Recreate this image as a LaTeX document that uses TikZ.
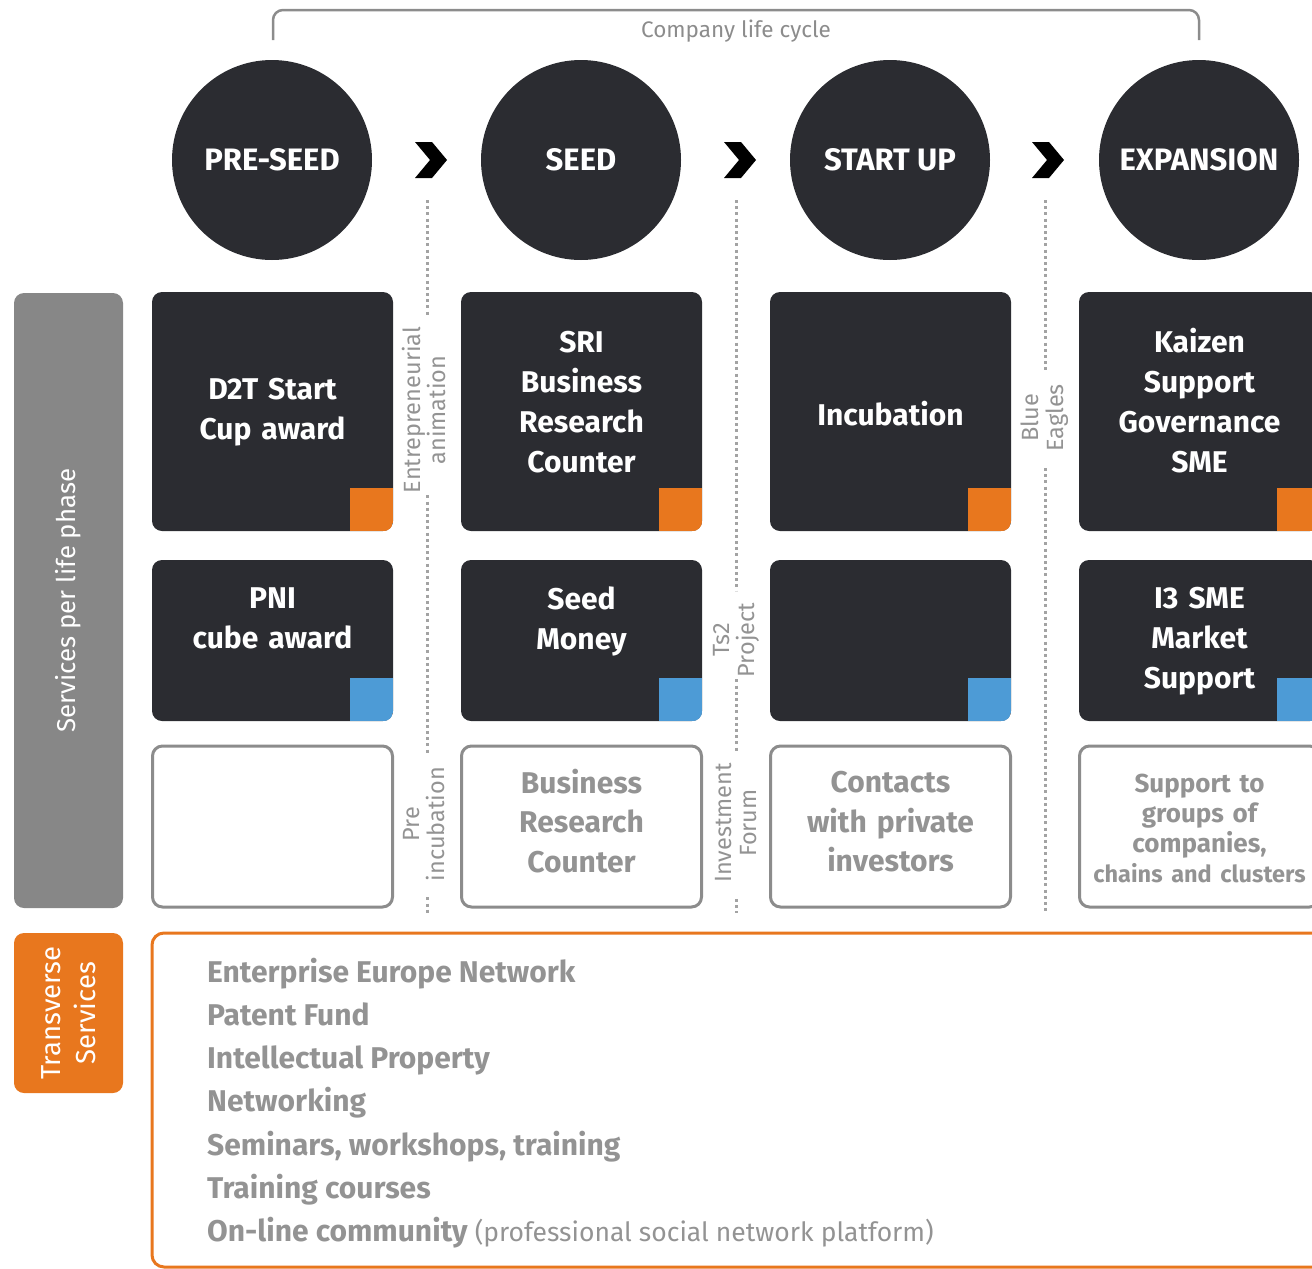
\documentclass[tikz,border=0pt]{standalone}
\usepackage{fontspec}
\setmainfont{Fira Sans}
\usetikzlibrary{calc}
\definecolor{slate}{HTML}{2B2C31}
\definecolor{tangerine}{HTML}{E8771E}
\definecolor{sky}{HTML}{4D9BD6}
\definecolor{bargray}{HTML}{878787}
\definecolor{edgegray}{HTML}{8C8C8C}
\definecolor{txtgray}{HTML}{939393}
\definecolor{dotgray}{HTML}{A3A3A3}
\tikzset{phase/.style={circle,fill=slate,minimum size=200pt,inner sep=0pt,text=white,font=\bfseries\fontsize{31}{31}\selectfont}}
\tikzset{card/.style={rectangle,rounded corners=10pt,fill=slate,minimum width=241pt,inner sep=0pt}}
\tikzset{cardtext/.style={text width=235pt,align=center,inner sep=0pt,text=white,font=\bfseries\fontsize{30}{40}\selectfont}}
\tikzset{plain/.style={rectangle,rounded corners=10pt,draw=edgegray,line width=3pt,fill=white,minimum width=240pt,minimum height=161pt,inner sep=0pt}}
\tikzset{plaintext/.style={text width=235pt,align=center,inner sep=0pt,text=txtgray,font=\bfseries\fontsize{30}{39.5}\selectfont}}
\tikzset{stage/.style={rotate=90,align=center,inner sep=2pt,text=txtgray,font=\fontsize{23.5}{25}\selectfont}}
\tikzset{dots/.style={draw=dotgray,line width=3pt,dash pattern=on 3pt off 3.2pt,shorten >=10pt}}
\tikzset{list/.style={anchor=base west,inner sep=0pt,text=txtgray,font=\bfseries\fontsize{30}{30}\selectfont}}
\begin{document}
\begin{tikzpicture}[x=1pt,y=1pt]
\useasboundingbox (0,0) rectangle (1312,-1269);
% life cycle bracket
\draw[edgegray,line width=2.5pt,rounded corners=10pt] (273,-40) -- (273,-10) -- (1199,-10) -- (1199,-40);
\node[text=edgegray,font=\fontsize{22.5}{22.5}\selectfont] (cycle) at (736,-31) {Company life cycle};
% phases
\node[phase] (preseed) at (272,-160) {\raisebox{-2pt}{PRE-SEED}};
\node[phase] (seed) at (581,-160) {\raisebox{-2pt}{SEED}};
\node[phase] (startup) at (890,-160) {\raisebox{-2pt}{START UP}};
\node[phase] (expansion) at (1199,-160) {\raisebox{-2pt}{EXPANSION}};
\foreach \x in {415,724,1032}
  \fill[black] (\x,-142) -- ++(17,0) -- ++(15,-18) -- ++(-15,-18) -- ++(-17,0) -- ++(15,18) -- cycle;
% side labels
\node[rectangle,rounded corners=10pt,fill=bargray,minimum width=109pt,minimum height=615pt] (perphase) at (68.5,-600.5) {};
\node[rotate=90,text=white,font=\fontsize{25.8}{25.8}\selectfont] at (perphase.center) {Services per life phase};
\node[rectangle,rounded corners=10pt,fill=tangerine,minimum width=109pt,minimum height=160pt] (transverse) at (68.5,-1013) {};
\node[rotate=90,align=center,text=white,font=\fontsize{27.5}{35}\selectfont] at (transverse.center) {Transverse\\Services};
% services
\node[card,minimum height=239pt] (d2t) at (272.5,-411.5) {};
\node[card,minimum height=239pt] (sri) at (581.5,-411.5) {};
\node[card,minimum height=239pt] (incub) at (890.5,-411.5) {};
\node[card,minimum height=239pt] (kaizen) at (1199.5,-411.5) {};
\node[card,minimum height=161pt] (pni) at (272.5,-640.5) {};
\node[card,minimum height=161pt] (money) at (581.5,-640.5) {};
\node[card,minimum height=161pt] (blank) at (890.5,-640.5) {};
\node[card,minimum height=161pt] (itre) at (1199.5,-640.5) {};
\foreach \b/\c in {d2t/tangerine,sri/tangerine,incub/tangerine,kaizen/tangerine,pni/sky,money/sky,blank/sky,itre/sky}{
  \begin{scope}
    \clip[rounded corners=10pt] (\b.south west) rectangle (\b.north east);
    \fill[\c] (\b.south east) rectangle ++(-43,43);
  \end{scope}
}
\node[cardtext] at ([yshift=-0.5pt]d2t.center) {D2T Start\\Cup award};
\node[cardtext] at ([yshift=9.5pt]sri.center) {SRI\\Business\\Research\\Counter};
\node[cardtext] at ([yshift=-2.5pt]incub.center) {Incubation};
\node[cardtext] at ([yshift=10.5pt]kaizen.center) {Kaizen\\Support\\Governance\\SME};
\node[cardtext] at ([yshift=22pt]pni.center) {PNI\\cube award};
\node[cardtext] at ([yshift=19.5pt]money.center) {Seed\\Money};
\node[cardtext] at ([yshift=-1pt]itre.center) {I3 SME\\Market\\Support};
\node[plain] (empty) at (272.5,-826.5) {};
\node[plain] (brc) at (581.5,-826.5) {};
\node[plain] (contacts) at (890.5,-826.5) {};
\node[plain] (groups) at (1199.5,-826.5) {};
\node[plaintext] at ([yshift=5.5pt]brc.center) {Business\\Research\\Counter};
\node[plaintext] at ([yshift=4.5pt]contacts.center) {Contacts\\with private\\investors};
\node[plaintext,font=\bfseries\fontsize{26}{30}\selectfont] at ([yshift=-1.5pt]groups.center) {Support to\\groups of\\companies,\\{\fontsize{23.5}{30}\selectfont chains and clusters}};
% stages between columns
\node[stage] (ent) at (424,-410) {Entrepreneurial\\animation};
\node[stage] (pre) at (424,-824) {Pre\\incubation};
\node[stage] (ts2) at (736,-640) {Ts2\\Project};
\node[stage] (forum) at (736,-823) {Investment\\Forum};
\node[stage] (eagles) at (1045,-418) {Blue\\Eagles};
\coordinate (a1) at (427,-200);
\coordinate (a2) at (427,-913);
\coordinate (b1) at (736,-200);
\coordinate (b2) at (736,-913);
\coordinate (c1) at (1045,-200);
\coordinate (c2) at (1045,-913);
\draw[dots] (a1) -- (a1 |- ent.east);
\draw[dots] (a1 |- ent.west) -- (a1 |- pre.east);
\draw[dots,shorten >=0pt,shorten <=14pt] (a2 |- pre.west) -- (a2);
\draw[dots] (b1) -- (b1 |- ts2.east);
\draw[dots] (b1 |- ts2.west) -- (b1 |- forum.east);
\draw[dots,shorten >=0pt,shorten <=14pt] (b2 |- forum.west) -- (b2);
\draw[dots] (c1) -- (c1 |- eagles.east);
\draw[dots,shorten >=0pt,shorten <=14pt] (c2 |- eagles.west) -- (c2);
% transverse services
\draw[tangerine,line width=3pt,rounded corners=12pt] (152,-933) rectangle (1330,-1267);
\foreach \t [count=\i] in {Enterprise Europe Network,Patent Fund,Intellectual Property,Networking,{Seminars, workshops, training},Training courses,{On-line community {\mdseries\fontsize{26.5}{30}\selectfont (professional social network platform)}}}
  \node[list] (item\i) at (207,{-982-43.3*(\i-1)}) {\t};
\end{tikzpicture}
\end{document}
